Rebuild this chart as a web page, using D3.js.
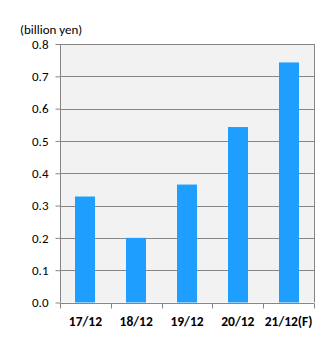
<!DOCTYPE html>
<html>
<head>
<meta charset="utf-8">
<script src="https://cdn.jsdelivr.net/npm/d3@7"></script>
<style>
  body { margin: 0; background: #fff; }
  text { font-family: Calibri, Carlito, "Liberation Sans", Arial, sans-serif; }
</style>
</head>
<body>
<svg id="chart" width="332" height="339"></svg>
<script>
var categories = ["17/12", "18/12", "19/12", "20/12", "21/12(F)"];
var values = [0.328, 0.2, 0.365, 0.543, 0.743];
var yTicks = [0, 0.1, 0.2, 0.3, 0.4, 0.5, 0.6, 0.7, 0.8];

(function(){
  var svg = d3.select("#chart");
  var pl = 60, pr = 314, pt = 44, pb = 302.5;

  var x = d3.scaleBand().domain(categories).range([pl, pr]).paddingInner(0).paddingOuter(0);
  var y = d3.scaleLinear().domain([0, 0.8]).range([pb, pt]);

  // plot area
  svg.append("rect")
    .attr("x", pl).attr("y", pt)
    .attr("width", pr - pl).attr("height", pb - pt)
    .attr("fill", "#f2f2f2");

  // gridlines
  svg.append("g").selectAll("line").data(yTicks).enter().append("line")
    .attr("x1", pl).attr("x2", pr)
    .attr("y1", function(d){ return Math.round(y(d)) + 0.5; })
    .attr("y2", function(d){ return Math.round(y(d)) + 0.5; })
    .attr("stroke", "#868686").attr("stroke-width", 1);

  // right border
  svg.append("line")
    .attr("x1", pr + 0.5).attr("x2", pr + 0.5)
    .attr("y1", pt).attr("y2", pb)
    .attr("stroke", "#868686");

  // bars
  var bw = 20;
  svg.append("g").selectAll("rect").data(values).enter().append("rect")
    .attr("x", function(d, i){ return Math.round(x(categories[i]) + x.bandwidth() / 2 - bw / 2); })
    .attr("y", function(d){ return y(d); })
    .attr("width", bw)
    .attr("height", function(d){ return y(0) - y(d); })
    .attr("fill", "#1e9fff");

  // y axis
  var yAxis = d3.axisLeft(y).tickValues(yTicks).tickFormat(d3.format(".1f")).tickSize(5).tickPadding(7);
  var gy = svg.append("g").attr("transform", "translate(" + (pl + 0.5) + ",0)").call(yAxis);
  gy.select(".domain").attr("stroke", "#868686").attr("d", "M0," + pt + "V" + pb);
  gy.selectAll(".tick line").attr("stroke", "#868686");
  gy.selectAll(".tick text").attr("font-size", 13).attr("fill", "#000")
    .style("font-family", "Calibri, Carlito, 'Liberation Sans', Arial, sans-serif");

  // x axis
  var gx = svg.append("g").attr("transform", "translate(0," + (Math.round(pb) + 0.5) + ")");
  gx.append("line").attr("x1", pl).attr("x2", pr).attr("stroke", "#868686");
  var bounds = categories.map(function(c){ return x(c); }).concat([pr]);
  gx.selectAll(".tk").data(bounds).enter().append("line")
    .attr("x1", function(d){ return Math.round(d) + 0.5; })
    .attr("x2", function(d){ return Math.round(d) + 0.5; })
    .attr("y1", 0).attr("y2", 5)
    .attr("stroke", "#868686");
  gx.selectAll("text").data(categories).enter().append("text")
    .attr("x", function(c){ return x(c) + x.bandwidth() / 2; })
    .attr("y", 22)
    .attr("text-anchor", "middle")
    .attr("font-size", 13.5).attr("font-weight", "bold")
    .text(function(c){ return c; });

  // unit label
  svg.append("text")
    .attr("x", 20).attr("y", 34)
    .attr("font-size", 13)
    .text("(billion yen)");
})();
</script>
</body>
</html>
